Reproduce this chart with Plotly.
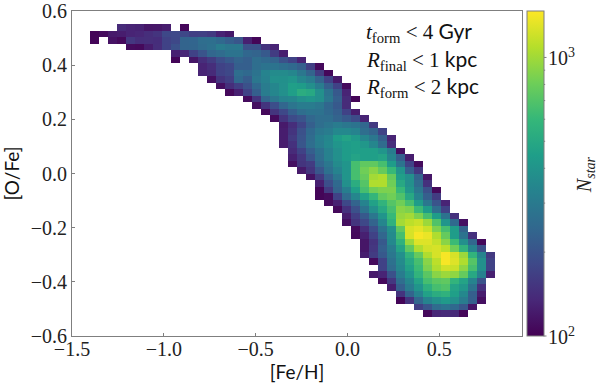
import numpy as np
import plotly.graph_objects as go

# 2d histogram of stars, 50 x 50 bins; rows run from the top of the panel down
n_bins = 50
feh_range = (-1.5, 0.95)
ofe_range = (-0.6, 0.6)

first_row = 2
row_first_col = [5, 2, 2, 6, 11, 11, 14, 14, 15, 16, 17, 19, 20, 21, 22, 23, 23, 23, 23, 24, 24, 24,
                 25, 26, 27, 27, 27, 28, 29, 30, 30, 31, 31, 32, 32, 32, 33, 34, 33, 34, 35, 36, 36, 38, 39]
nstar_rows = [
    [138, 131, 129, 117, 118, 124, None, 105],
    [103, 108, 121, 124, 131, 134, 142, 150, 180, 182, 180, 166, 167, 158, 130, 120],
    [103, None, 114, 106, 154, 142, 143, 141, 171, 180, 236, 238, 262, 264, 249, 224, 206, 127, 103],
    [108, 106, 124, 142, 171, 196, 236, 237, 255, 270, 308, 292, 293, 196, 197, 150, 131],
    [127, 134, 171, 201, 242, 255, 277, 278, 243, 236, 212, 162, 124],
    [103, None, 117, 142, 162, 190, 212, 236, 224, 262, 249, 236, 196, 171, 131],
    [131, 142, 171, 180, 224, 225, 262, 277, 279, 263, 249, 224, 166, 106],
    [131, 138, 171, 180, 262, 249, 277, 334, 362, 363, 343, 292, 236, 162, 105],
    [111, 150, 166, 249, 218, 292, 325, 382, 384, 403, 343, 308, 236, 171, 121],
    [111, 142, 166, 196, 249, 308, 343, 382, 449, 437, 380, 308, 224, 171, 108],
    [106, 127, 171, 224, 308, 343, 382, 449, 528, 500, 382, 277, 212, 131],
    [108, 150, 242, 292, 334, 343, 382, 403, 381, 291, 224, 138, 103],
    [111, 150, 190, 242, 284, 308, 307, 292, 243, 212, 138],
    [106, 151, 180, 224, 262, 277, 276, 249, 224, 171, 124],
    [108, 150, 185, 201, 242, 262, 261, 236, 212, 185, 131],
    [121, 142, 176, 224, 262, 284, 308, 292, 277, 242, 158],
    [124, 150, 196, 249, 292, 308, 353, 352, 334, 262, 236, 171],
    [124, 158, 201, 255, 317, 343, 437, 474, 425, 343, 292, 224, 131],
    [124, 146, 206, 262, 308, 353, 403, 437, 449, 414, 343, 255, 142],
    [138, 171, 224, 270, 325, 382, 437, 449, 449, 450, 403, 308, 111],
    [127, 154, 201, 262, 325, 382, 437, 474, 449, 450, 474, 343, 224, 124],
    [111, 150, 162, 242, 292, 362, 403, 655, 749, 750, 655, 437, 277, 171, 108],
    [121, 150, 206, 270, 334, 403, 655, 812, 905, 770, 604, 403, 224, 154],
    [114, 158, 224, 292, 403, 655, 770, 1008, 1064, 770, 449, 382, 236, 117],
    [127, 190, 249, 382, 528, 710, 1064, 1065, 812, 500, 382, 255, 146],
    [103, 158, 236, 317, 449, 655, 812, 857, 858, 604, 414, 292, 196, 106],
    [103, 108, 171, 255, 343, 461, 588, 749, 812, 691, 500, 334, 224, 162],
    [108, 127, 180, 236, 334, 461, 572, 710, 812, 655, 437, 292, 201, 131],
    [106, 146, 196, 277, 382, 500, 655, 905, 857, 620, 437, 262, 171],
    [124, 166, 212, 292, 403, 604, 955, 1008, 857, 655, 437, 277, 146],
    [111, 150, 180, 236, 343, 557, 1008, 1123, 1185, 981, 691, 403, 249, 111],
    [108, 142, 190, 277, 382, 749, 1250, 1319, 1185, 857, 655, 437, 236],
    [106, 127, 171, 242, 362, 655, 1250, 1430, 1355, 1064, 770, 437, 277, 146],
    [117, 150, 212, 353, 557, 981, 1284, 1285, 1153, 905, 620, 382, 242, 106],
    [117, 154, 224, 308, 474, 749, 1064, 1217, 1250, 1123, 812, 572, 334, 196],
    [124, 162, 212, 292, 382, 572, 770, 1064, 1250, 1430, 1250, 981, 572, 334, 158],
    [108, 171, 270, 362, 500, 655, 905, 1123, 1430, 1284, 1064, 710, 382, 171],
    [171, 255, 343, 461, 620, 857, 1064, 1217, 1185, 930, 655, 382, 171],
    [121, 131, 196, 308, 403, 572, 729, 905, 981, 930, 770, 500, 325, 127],
    [106, 154, 262, 343, 474, 655, 729, 749, 572, 474, 334, 201],
    [124, 224, 308, 403, 542, 655, 691, 474, 414, 277, 146],
    [150, 236, 334, 461, 528, 557, 449, 353, 224, 124],
    [103, 150, 242, 334, 382, 425, 382, 308, 224, 111],
    [166, 201, 255, 277, 249, 206, 117],
    [106, 134, 138, 137, 105],
]

xticks = [-1.5, -1.0, -0.5, 0.0, 0.5]
yticks = [-0.6, -0.4, -0.2, 0.0, 0.2, 0.4, 0.6]
cbar_major = [100, 1000]
cbar_major_text = ["10<sup>2</sup>", "10<sup>3</sup>"]
cbar_minor = [200, 300, 400, 500, 600, 700, 800, 900]
vmin, vmax = 100, 1468

x_edges = np.linspace(feh_range[0], feh_range[1], n_bins + 1)
y_edges = np.linspace(ofe_range[1], ofe_range[0], n_bins + 1)
x_mid = (x_edges[:-1] + x_edges[1:]) / 2
y_mid = (y_edges[:-1] + y_edges[1:]) / 2

z = np.full((n_bins, n_bins), np.nan)
for i, (c0, vals) in enumerate(zip(row_first_col, nstar_rows)):
    for j, v in enumerate(vals):
        if v is not None:
            z[first_row + i, c0 + j] = np.log10(v)

SERIF = "Liberation Serif"
SANS = "Lato"
LINE = "#7f7f7f"


def tick_text(v):
    return f"{v:.1f}".replace("-", "\u2212")


def cbar_frac(v):
    return (np.log10(v) - np.log10(vmin)) / (np.log10(vmax) - np.log10(vmin))


fig = go.Figure(go.Heatmap(
    x=x_mid, y=y_mid, z=z,
    colorscale="Viridis", zmin=np.log10(vmin), zmax=np.log10(vmax),
    hoverongaps=False,
    colorbar=dict(
        x=1.01, xanchor="left", xpad=0, y=0.5, len=1, ypad=0,
        thickness=17, outlinecolor=LINE, outlinewidth=1,
        ticks="", showticklabels=False,
    ),
))

# colorbar ticks and labels, on the same log scale as the bar
for v in cbar_minor:
    fig.add_shape(type="line", xref="paper", yref="paper", x0=1.0478, x1=1.0515,
                  y0=cbar_frac(v), y1=cbar_frac(v), line=dict(color=LINE, width=1))
for v, label in zip(cbar_major, cbar_major_text):
    fig.add_shape(type="line", xref="paper", yref="paper", x0=1.0478, x1=1.0545,
                  y0=cbar_frac(v), y1=cbar_frac(v), line=dict(color=LINE, width=1))
    fig.add_annotation(xref="paper", yref="paper", x=1.0533, y=cbar_frac(v), xanchor="left", yanchor="middle",
                       showarrow=False, text=label, font=dict(family=SERIF, size=20, color="#222222"))

fig.add_annotation(
    xref="paper", yref="paper", x=1.14, y=0.495, xanchor="center", yanchor="middle",
    textangle=-90, showarrow=False,
    text="<i>N<sub>star</sub></i>", font=dict(family=SERIF, size=20, color="#222222"),
)

axis_style = dict(
    showgrid=False, zeroline=False, showline=True, mirror=True,
    linecolor=LINE, linewidth=1, ticks="inside", ticklen=3, tickcolor=LINE,
    tickfont=dict(family=SERIF, size=20, color="#222222"),
    tickmode="array",
)
fig.update_xaxes(range=list(feh_range), tickvals=xticks, ticktext=[tick_text(v) for v in xticks],
                 ticklabelstandoff=-5,
                 title=dict(text="[Fe/H]", font=dict(family=SANS, size=19, color="#111111"), standoff=6),
                 **axis_style)
fig.update_yaxes(range=list(ofe_range), tickvals=yticks, ticktext=[tick_text(v) for v in yticks],
                 title=dict(text="[O/Fe]", font=dict(family=SANS, size=19, color="#111111"), standoff=6),
                 **axis_style)

labels = [
    ("<i>t</i><sub>form</sub> < 4 ", "Gyr", 0.935),
    ("<i>R</i><sub>final</sub> < 1 ", "kpc", 0.85),
    ("<i>R</i><sub>form</sub> < 2 ", "kpc", 0.765),
]
for math_part, unit, ypos in labels:
    fig.add_annotation(
        xref="paper", yref="paper", x=0.648, y=ypos, xanchor="left", yanchor="middle",
        showarrow=False, align="left",
        text=f'{math_part}<span style="font-family:{SANS}">{unit}</span>',
        font=dict(family=SERIF, size=21, color="#111111"),
    )

fig.update_layout(
    width=598, height=387, autosize=False,
    margin=dict(l=72, r=76, t=11, b=51, autoexpand=False),
    paper_bgcolor="white", plot_bgcolor="white",
)
# the page's default body margin would push the figure off the window
fig.write_html("out.html", config=dict(displayModeBar=False),
               post_script="document.body.style.margin='0';")
